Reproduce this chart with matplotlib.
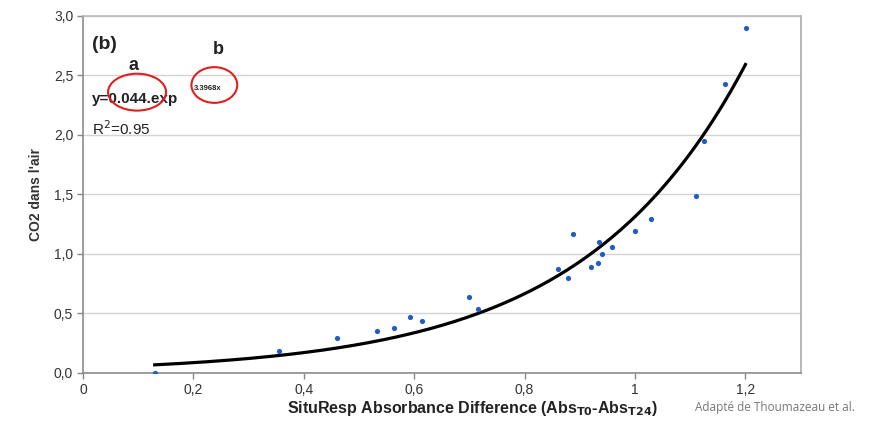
import matplotlib.pyplot as plt
from matplotlib.patches import Ellipse
from matplotlib.ticker import FuncFormatter
import numpy as np

# Data
abs_diff = [0.13, 0.356, 0.461, 0.532, 0.564, 0.593, 0.615, 0.700, 0.715,
            0.860, 0.878, 0.887, 0.920, 0.933, 0.935, 0.940, 0.958, 1.000,
            1.029, 1.111, 1.125, 1.163, 1.201]
co2_air = [0.0, 0.185, 0.29, 0.355, 0.38, 0.47, 0.44, 0.64, 0.54,
           0.875, 0.80, 1.17, 0.89, 0.925, 1.10, 1.00, 1.06, 1.195,
           1.29, 1.49, 1.95, 2.43, 2.90]

# Exponential fit y = a * exp(b x)
fit_a = 0.044
fit_b = 3.3968
fit_range = (0.13, 1.2)

x_ticks = [0, 0.2, 0.4, 0.6, 0.8, 1.0, 1.2]
y_ticks = [0.0, 0.5, 1.0, 1.5, 2.0, 2.5, 3.0]

plt.rcParams['font.family'] = ['Liberation Sans', 'DejaVu Sans']

fig = plt.figure(figsize=(8.76, 4.30), dpi=100)
ax = fig.add_axes([0.0947, 0.1326, 0.8193, 0.8302])

# Trend line
xf = np.linspace(fit_range[0], fit_range[1], 200)
ax.plot(xf, fit_a * np.exp(fit_b * xf), color="black", lw=2.3, zorder=3)

# Points
ax.scatter(abs_diff, co2_air, s=14, color="#1f5cc4", zorder=4, linewidths=0)

ax.set_xlim(0, 1.3)
ax.set_ylim(0, 3.0)
ax.set_xticks(x_ticks)
ax.set_yticks(y_ticks)


def fmt_x(v, pos):
    s = f"{v:.1f}".rstrip("0").rstrip(".")
    return s.replace(".", ",")


ax.xaxis.set_major_formatter(FuncFormatter(fmt_x))
ax.yaxis.set_major_formatter(FuncFormatter(lambda v, p: f"{v:.1f}".replace(".", ",")))
ax.tick_params(axis="both", labelsize=10, colors="#333333", direction="out",
               length=4, width=1, pad=3)
ax.tick_params(axis="both", color="#888888")

ax.yaxis.grid(True, color="#d4d4d4", lw=1, zorder=0)
for sp in ax.spines.values():
    sp.set_color("#8c8c8c")
    sp.set_linewidth(1.2)
ax.spines["top"].set_color("#bbbbbb")
ax.spines["right"].set_color("#aaaaaa")

ax.set_xlabel(r"SituResp Absorbance Difference (Abs$_{\mathbf{T0}}$-Abs$_{\mathbf{T24}}$)",
              fontsize=11.5, fontweight="bold", color="#222222", labelpad=2)
ax.xaxis.label.set_x(0.542)
ax.set_ylabel("CO2 dans l'air", fontsize=10, fontweight="bold", color="#333333",
              labelpad=8)

fig.text(0.793, 0.045, "Adapté de Thoumazeau et al.", fontsize=8.5,
         color="#777777", family="Open Sans")

# Equation annotation
ax.text(0.017, 2.72, "(b)", fontsize=14, fontweight="bold", color="#222222")
ax.text(0.083, 2.55, "a", fontsize=13, fontweight="bold", color="#222222")
ax.text(0.235, 2.68, "b", fontsize=13, fontweight="bold", color="#222222")
ax.text(0.017, 2.27, "y=0.044.exp", fontsize=11, fontweight="bold", color="#222222")
ax.text(0.2, 2.38, "3.3968x", fontsize=5.5, fontweight="bold", color="#222222")
ax.text(0.017, 2.0, "R$^2$=0.95", fontsize=11, color="#222222")

ax.add_patch(Ellipse((0.098, 2.36), 0.105, 0.31, fill=False, edgecolor="#e02020",
                     lw=1.5, zorder=5))
ax.add_patch(Ellipse((0.238, 2.42), 0.083, 0.30, fill=False, edgecolor="#e02020",
                     lw=1.5, zorder=5))

plt.savefig("out.png", dpi=100)
plt.close()
